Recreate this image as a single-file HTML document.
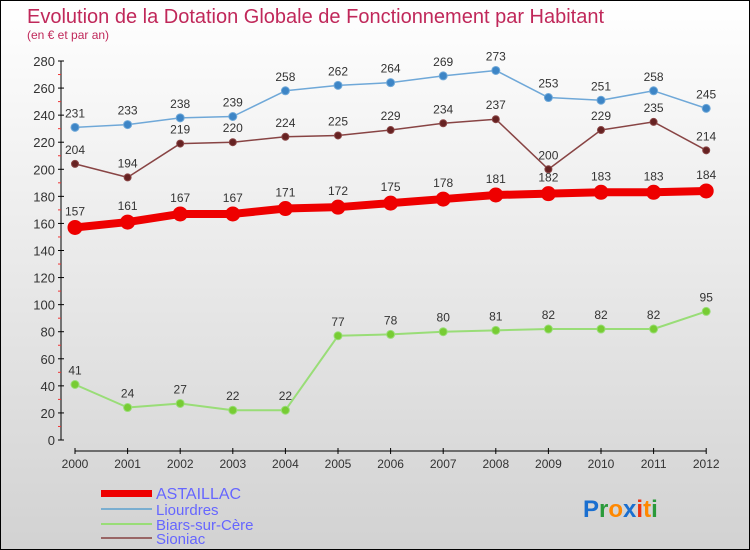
<!DOCTYPE html>
<html><head><meta charset="utf-8"><style>
body{margin:0;}
#wrap{position:relative;width:748px;height:548px;border:1px solid #000;background:linear-gradient(#ffffff,#d2d2d2);overflow:hidden;font-family:"Liberation Sans",sans-serif;}
</style></head><body>
<div id="wrap">
<svg id="chart" width="748" height="548" xmlns="http://www.w3.org/2000/svg">
<text x="26" y="22" font-size="20" fill="#c0285a">Evolution de la Dotation Globale de Fonctionnement par Habitant</text>
<text x="26" y="38" font-size="12" fill="#c0285a">(en € et par an)</text>
<g id="axes"></g><g id="series"></g>
<g>
<rect x="100" y="489" width="51" height="7" fill="#e00"/>
<text x="155" y="498" font-size="16" fill="#6666ff">ASTAILLAC</text>
<line x1="100" x2="151" y1="508" y2="508" stroke="#7aaed0" stroke-width="2"/>
<text x="155" y="514" font-size="15" fill="#6666ff">Liourdres</text>
<line x1="100" x2="151" y1="523" y2="523" stroke="#99dd77" stroke-width="2"/>
<text x="155" y="529" font-size="15" fill="#6666ff">Biars-sur-Cère</text>
<line x1="100" x2="151" y1="537" y2="537" stroke="#996666" stroke-width="2"/>
<text x="155" y="543" font-size="15" fill="#6666ff">Sioniac</text>
</g>
<g font-size="24" font-weight="bold">
<text x="582" y="516"><tspan fill="#1a6fd0">P</tspan><tspan fill="#2a9a3a">r</tspan><tspan fill="#ff8800">o</tspan><tspan fill="#1a6fd0">x</tspan><tspan fill="#ee3311">i</tspan><tspan fill="#ff8800">t</tspan><tspan fill="#2a9a3a">i</tspan></text>
</g>
</svg>
</div>
<script>
const years=[2000,2001,2002,2003,2004,2005,2006,2007,2008,2009,2010,2011,2012];
const astaillac=[157,161,167,167,171,172,175,178,181,182,183,183,184];
const liourdres=[231,233,238,239,258,262,264,269,273,253,251,258,245];
const biars=[41,24,27,22,22,77,78,80,81,82,82,82,95];
const sioniac=[204,194,219,220,224,225,229,234,237,200,229,235,214];
const yTicks=[0,20,40,60,80,100,120,140,160,180,200,220,240,260,280];
const NS="http://www.w3.org/2000/svg";
const xs=i=>74+i*52.6;
const ys=v=>439-v*(379/280);
function mk(t,a,p){const e=document.createElementNS(NS,t);for(const k in a)e.setAttribute(k,a[k]);p.appendChild(e);return e;}
const ax=document.getElementById('axes');
const y0=mk('line',{x1:60,x2:60,y1:ys(280),y2:ys(0),stroke:'#000'},ax);


yTicks.forEach((v,k)=>{
  mk('line',{x1:57,x2:63,y1:ys(v),y2:ys(v),stroke:'#000'},ax);
  if(k<yTicks.length-1) mk('line',{x1:57,x2:60,y1:ys(v+10),y2:ys(v+10),stroke:'#e33'},ax);
  const t=mk('text',{x:54,y:ys(v)+5,'text-anchor':'end','font-size':13,fill:'#333'},ax);
  t.textContent=v;
  
  
});
const xa=mk('line',{x1:74,x2:xs(12),y1:450,y2:450,stroke:'#000'},ax);


years.forEach((y,i)=>{
  mk('line',{x1:xs(i),x2:xs(i),y1:447,y2:453,stroke:'#000'},ax);
  const t=mk('text',{x:xs(i),y:467,'text-anchor':'middle','font-size':12,fill:'#333'},ax);
  t.textContent=y;
  
  
});
const sg=document.getElementById('series');
function series(data,name,color,fill,w,r,dy){
  const g=mk('g',{},sg);
  
  
  mk('polyline',{points:data.map((v,i)=>xs(i)+','+ys(v)).join(' '),fill:'none',stroke:color,'stroke-width':w,'stroke-linejoin':'round'},g);
  data.forEach((v,i)=>{
    const c=mk('circle',{cx:xs(i),cy:ys(v),r:r,fill:fill,stroke:color,'stroke-width':1},g);
    
    
    const t=mk('text',{x:xs(i),y:ys(v)+dy,'text-anchor':'middle','font-size':12,fill:'#333'},g);
    t.textContent=v;
    
    
  });
}
series(biars,'biars','#99dd77','#77cc33',2,4,-10);
series(sioniac,'sioniac','#884444','#662222',1.5,3.5,-10);
series(liourdres,'liourdres','#6fa8d8','#3d85c6',1.5,4,-10);
series(astaillac,'astaillac','#ee0000','#ee0000',8,7,-12);
</script>
</body></html>
